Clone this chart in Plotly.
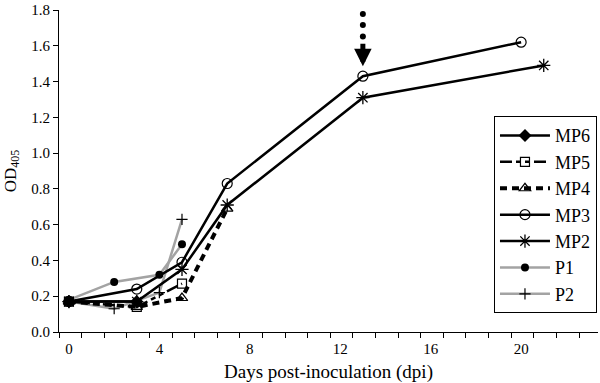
import plotly.graph_objects as go

# ---- data ----
mp6_days = [0, 3]
mp6_od = [0.17, 0.17]

mp5_days = [0, 3, 5]
mp5_od = [0.17, 0.14, 0.27]

mp4_days = [0, 3, 5, 7]
mp4_od = [0.17, 0.14, 0.19, 0.69]

mp3_days = [0, 3, 5, 7, 13, 20]
mp3_od = [0.17, 0.24, 0.39, 0.83, 1.43, 1.62]

mp2_days = [0, 3, 5, 7, 13, 21]
mp2_od = [0.17, 0.17, 0.35, 0.71, 1.31, 1.49]

p1_days = [0, 2, 4, 5]
p1_od = [0.18, 0.28, 0.32, 0.49]

p2_days = [0, 2, 4, 5]
p2_od = [0.17, 0.13, 0.22, 0.63]

x_tick_vals = [0, 4, 8, 12, 16, 20]
y_tick_vals = [0.0, 0.2, 0.4, 0.6, 0.8, 1.0, 1.2, 1.4, 1.6, 1.8]

# annotation marker (arrow at day 13)
arrow_day = 13
arrow_tip = 1.485
arrow_tail = 1.62
arrow_dots = [1.778, 1.716, 1.652]

BLACK = "#000000"
GRAY = "#a3a3a3"
FONT = "Liberation Serif, Times New Roman, serif"

fig = go.Figure()

fig.add_trace(go.Scatter(
    x=p1_days, y=p1_od, name="P1", mode="lines+markers",
    line=dict(color=GRAY, width=2.5),
    marker=dict(symbol="circle", size=8, color=BLACK)))
fig.add_trace(go.Scatter(
    x=p2_days, y=p2_od, name="P2", mode="lines+markers",
    line=dict(color=GRAY, width=2.5),
    marker=dict(symbol="cross-thin-open", size=8, color=BLACK, line=dict(width=1.2, color=BLACK))))
fig.add_trace(go.Scatter(
    x=mp6_days, y=mp6_od, name="MP6", mode="lines+markers",
    line=dict(color=BLACK, width=2.5),
    marker=dict(symbol="diamond", size=10, color=BLACK)))
fig.add_trace(go.Scatter(
    x=mp5_days, y=mp5_od, name="MP5", mode="lines+markers",
    line=dict(color=BLACK, width=2.5, dash="12px,4px,5px,4px,5px,4px"),
    marker=dict(symbol="square-open", size=9, color=BLACK, line=dict(width=1.2))))
fig.add_trace(go.Scatter(
    x=mp4_days, y=mp4_od, name="MP4", mode="lines+markers",
    line=dict(color=BLACK, width=4, dash="7px,5px"),
    marker=dict(symbol="triangle-up-open", size=10, color=BLACK, line=dict(width=1.2))))
fig.add_trace(go.Scatter(
    x=mp3_days, y=mp3_od, name="MP3", mode="lines+markers",
    line=dict(color=BLACK, width=2.5),
    marker=dict(symbol="circle-open", size=10, color=BLACK, line=dict(width=1.2))))
fig.add_trace(go.Scatter(
    x=mp2_days, y=mp2_od, name="MP2", mode="lines+markers",
    line=dict(color=BLACK, width=2.5),
    marker=dict(symbol="asterisk-open", size=11, color=BLACK, line=dict(width=1.3, color=BLACK))))

# dotted lead-in of the arrow
fig.add_trace(go.Scatter(
    x=[arrow_day] * len(arrow_dots), y=arrow_dots, mode="markers",
    marker=dict(symbol="circle", size=6, color=BLACK),
    showlegend=False, hoverinfo="skip"))

fig.add_annotation(
    x=arrow_day, y=arrow_tip, ax=arrow_day, ay=arrow_tail,
    xref="x", yref="y", axref="x", ayref="y",
    showarrow=True, arrowhead=2, arrowsize=0.7, arrowwidth=5, arrowcolor=BLACK, text="")

fig.update_layout(
    width=600, height=383,
    margin=dict(l=59, r=2, t=10, b=51),
    paper_bgcolor="white", plot_bgcolor="white",
    font=dict(family=FONT, size=14, color=BLACK),
    showlegend=True,
    legend=dict(
        x=0.807, y=0.670, xanchor="left", yanchor="top",
        bordercolor=BLACK, borderwidth=1, bgcolor="white",
        font=dict(family=FONT, size=18, color=BLACK),
        itemwidth=50, tracegroupgap=0,
        traceorder="normal",
    ),
)

fig.update_xaxes(
    range=[-0.44, 23.4], tickvals=x_tick_vals, ticktext=[str(v) for v in x_tick_vals],
    ticks="outside", ticklen=0, showgrid=False, zeroline=False,
    showline=True, linecolor=BLACK, linewidth=1.2,
    minor=dict(tick0=-0.44, dtick=1, ticks="outside", ticklen=5, tickcolor=BLACK, tickwidth=1.2, showgrid=False),
    title=dict(text="Days post-inoculation (dpi)", font=dict(size=19, family=FONT), standoff=14),
    tickfont=dict(size=15, family=FONT),
    ticklabelstandoff=3,
    automargin=False,
)
fig.update_yaxes(
    range=[0, 1.8], tickvals=y_tick_vals, tickformat=".1f",
    ticks="outside", ticklen=5, tickcolor=BLACK, tickwidth=1.2,
    showgrid=False, zeroline=False,
    showline=True, linecolor=BLACK, linewidth=1.2,
    title=dict(text="OD<sub>405</sub>", font=dict(size=17, family=FONT), standoff=10),
    tickfont=dict(size=15, family=FONT),
    automargin=False,
)

# legend order as in the reference
order = ["MP6", "MP5", "MP4", "MP3", "MP2", "P1", "P2"]
for tr in fig.data:
    if tr.name in order:
        tr.legendrank = order.index(tr.name) + 1

fig.write_html("out.html", config={"displayModeBar": False},
               post_script="document.body.style.margin='0px';")
